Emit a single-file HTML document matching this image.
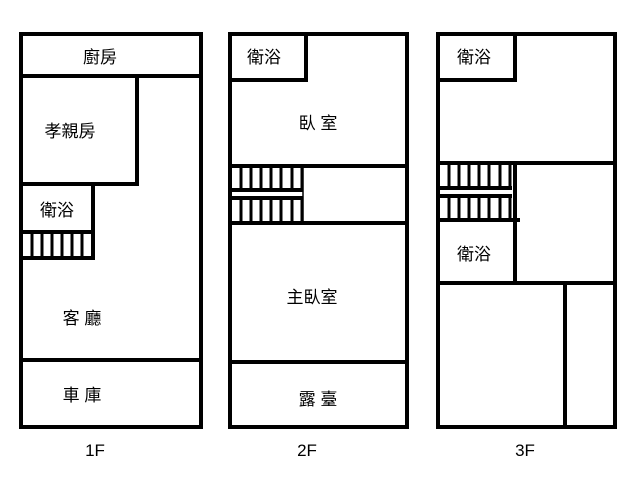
<!DOCTYPE html>
<html><head><meta charset="utf-8"><style>
body{margin:0;background:#fff;width:640px;height:480px;overflow:hidden}
text{font-family:"Liberation Sans","Noto Sans CJK TC",sans-serif;font-size:17px;fill:#000}
</style></head><body>
<svg width="640" height="480" xmlns="http://www.w3.org/2000/svg">
<g fill="none" stroke="#000" stroke-width="4">
<!-- 1F -->
<rect x="21" y="34" width="180" height="393"/>
<line x1="21" y1="76" x2="201" y2="76"/>
<polyline points="21,184 137,184 137,76"/>
<polyline points="21,232 93,232 93,184"/>
<polyline points="21,258 93,258 93,232"/>
<line x1="21" y1="360" x2="201" y2="360"/>
<!-- 2F -->
<rect x="230" y="34" width="177" height="393"/>
<polyline points="230,80 306,80 306,34"/>
<line x1="230" y1="166" x2="407" y2="166"/>
<line x1="230" y1="190" x2="303" y2="190"/>
<line x1="230" y1="198" x2="303" y2="198"/>
<line x1="230" y1="223" x2="407" y2="223"/>
<line x1="230" y1="362" x2="407" y2="362"/>
<!-- 3F -->
<rect x="438" y="34" width="177" height="393"/>
<polyline points="438,80 515,80 515,34"/>
<line x1="438" y1="163" x2="615" y2="163"/>
<line x1="438" y1="188" x2="512" y2="188"/>
<line x1="438" y1="196" x2="512" y2="196"/>
<line x1="438" y1="220" x2="520" y2="220"/>
<polyline points="438,283 515,283 515,163"/>
<line x1="515" y1="283" x2="615" y2="283"/>
<line x1="565" y1="283" x2="565" y2="427"/>
</g>
<g stroke="#000" stroke-width="1.5">
<line x1="303" y1="166" x2="303" y2="223"/>
</g>
<g stroke="#000" stroke-width="3">
<line x1="32" y1="232" x2="32" y2="258"/><line x1="42" y1="232" x2="42" y2="258"/><line x1="52" y1="232" x2="52" y2="258"/><line x1="62" y1="232" x2="62" y2="258"/><line x1="72" y1="232" x2="72" y2="258"/><line x1="82" y1="232" x2="82" y2="258"/>
<line x1="241" y1="166" x2="241" y2="190"/><line x1="251" y1="166" x2="251" y2="190"/><line x1="261" y1="166" x2="261" y2="190"/><line x1="271" y1="166" x2="271" y2="190"/><line x1="281" y1="166" x2="281" y2="190"/><line x1="292" y1="166" x2="292" y2="190"/><line x1="302" y1="166" x2="302" y2="190"/>
<line x1="241" y1="198" x2="241" y2="223"/><line x1="251" y1="198" x2="251" y2="223"/><line x1="261" y1="198" x2="261" y2="223"/><line x1="271" y1="198" x2="271" y2="223"/><line x1="281" y1="198" x2="281" y2="223"/><line x1="292" y1="198" x2="292" y2="223"/><line x1="302" y1="198" x2="302" y2="223"/>
<line x1="449" y1="163" x2="449" y2="188"/><line x1="459" y1="163" x2="459" y2="188"/><line x1="469" y1="163" x2="469" y2="188"/><line x1="479" y1="163" x2="479" y2="188"/><line x1="489" y1="163" x2="489" y2="188"/><line x1="500" y1="163" x2="500" y2="188"/><line x1="510" y1="163" x2="510" y2="188"/>
<line x1="449" y1="196" x2="449" y2="220"/><line x1="459" y1="196" x2="459" y2="220"/><line x1="469" y1="196" x2="469" y2="220"/><line x1="479" y1="196" x2="479" y2="220"/><line x1="489" y1="196" x2="489" y2="220"/><line x1="500" y1="196" x2="500" y2="220"/><line x1="510" y1="196" x2="510" y2="220"/>
</g>
<text x="100" y="63" text-anchor="middle">廚房</text>
<text x="70" y="137" text-anchor="middle">孝親房</text>
<text x="57" y="216" text-anchor="middle">衛浴</text>
<text x="82" y="324" text-anchor="middle">客 廳</text>
<text x="82" y="401" text-anchor="middle">車 庫</text>
<text x="264" y="63" text-anchor="middle">衛浴</text>
<text x="318" y="129" text-anchor="middle">臥 室</text>
<text x="312" y="303" text-anchor="middle">主臥室</text>
<text x="318" y="405" text-anchor="middle">露 臺</text>
<text x="474" y="63" text-anchor="middle">衛浴</text>
<text x="474" y="260" text-anchor="middle">衛浴</text>
<text x="95" y="456" text-anchor="middle">1F</text>
<text x="307" y="456" text-anchor="middle">2F</text>
<text x="525" y="456" text-anchor="middle">3F</text>
</svg>
</body></html>
